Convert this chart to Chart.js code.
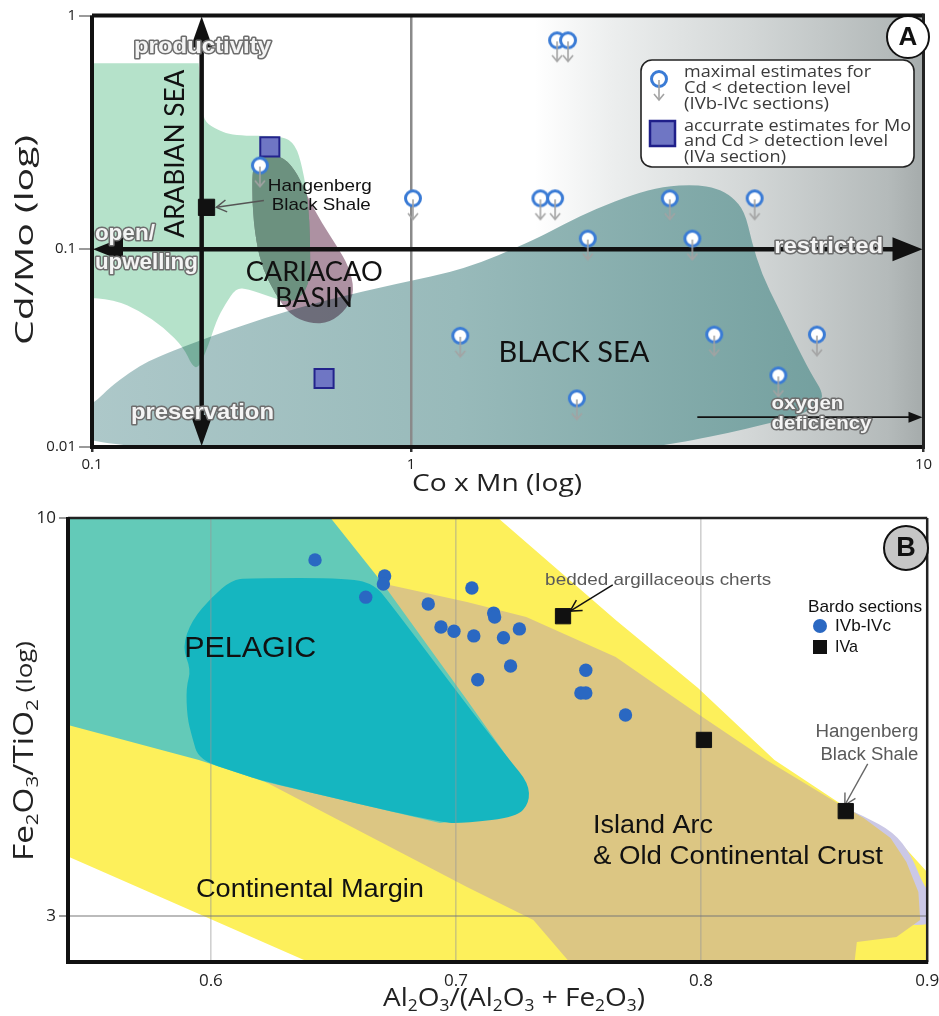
<!DOCTYPE html>
<html>
<head>
<meta charset="utf-8">
<title>Cd/Mo vs Co x Mn and Fe2O3/TiO2 vs Al2O3/(Al2O3+Fe2O3)</title>
<script src="https://cdn.jsdelivr.net/npm/chart.js@4.4.1/dist/chart.umd.min.js"></script>
<style>
html,body{margin:0;padding:0;background:#fff;}
#wrap{position:relative;width:939px;height:1016px;overflow:hidden;}
#pa{position:absolute;left:0;top:0;}
#pb{position:absolute;left:0;top:500px;}
</style>
</head>
<body>
<div id="wrap">
<canvas id="pa" width="939" height="500"></canvas>
<canvas id="pb" width="939" height="516"></canvas>
</div>
<script>
// ================= PANEL A DATA (Cd/Mo vs Co x Mn) =================
const A_X_TICKS = [0.1, 1, 10];
const A_X_TICK_LABELS = ['0.1', '1', '10'];
const A_Y_TICKS = [0.01, 0.1, 1];
const A_Y_TICK_LABELS = ['0.01', '0.1', '1'];

// IVb-IVc sections: maximal estimates (Cd < detection level)
const A_IVBC_COMN = [0.336, 1.009, 1.248, 1.789, 1.911, 1.928, 2.025, 2.213, 3.199, 3.540, 3.905, 4.684, 5.210, 6.194, 2.107];
const A_IVBC_CDMO = [0.228, 0.165, 0.0365, 0.165, 0.165, 0.783, 0.783, 0.111, 0.165, 0.111, 0.037, 0.165, 0.023, 0.037, 0.0176];
// IVa section: accurate estimates
const A_IVA_COMN = [0.361, 0.534];
const A_IVA_CDMO = [0.274, 0.0222];
// Hangenberg Black Shale
const A_HBS_COMN = [0.2286];
const A_HBS_CDMO = [0.151];

// reference fields [Co x Mn, Cd/Mo]
const A_BLACK_SEA = [[0.09,0.0148],[0.1036,0.0172],[0.1137,0.0200],[0.1311,0.0238],[0.1512,0.0274],[0.216,0.0345],[0.348,0.045],[0.557,0.0561],[0.899,0.0667],[1.276,0.0793],[1.718,0.1081],[1.989,0.1278],[2.302,0.1494],[2.714,0.1714],[3.10,0.1854],[3.589,0.189],[3.957,0.1818],[4.229,0.1681],[4.48,0.1451],[4.62,0.1081],[4.831,0.0749],[5.21,0.0505],[5.592,0.0345],[6.03,0.0235],[6.362,0.0189],[6.305,0.0168],[5.898,0.0150],[5.518,0.0140],[4.831,0.0129],[4.173,0.0118],[3.54,0.0108],[3.10,0.0102],[2.6,0.0095],[0.09,0.0095]];
const A_ARABIAN_SEA = [[0.09,0.625],[0.09,0.625],[0.216,0.625],[0.216,0.625],[0.2207,0.426],[0.2238,0.357],[0.2403,0.330],[0.2771,0.3055],[0.3959,0.3055],[0.4343,0.280],[0.4564,0.2255],[0.4764,0.160],[0.4833,0.108],[0.4833,0.0652],[0.425,0.0529],[0.3557,0.058],[0.3084,0.0629],[0.2831,0.0637],[0.2618,0.0529],[0.2455,0.0435],[0.2318,0.0326],[0.216,0.0249],[0.2055,0.0258],[0.1941,0.0318],[0.1683,0.0401],[0.1408,0.0488],[0.1178,0.0554],[0.09,0.0575],[0.09,0.0575]];
const A_CARIACO = [[0.3195,0.244],[0.3557,0.256],[0.4016,0.246],[0.4406,0.2106],[0.4731,0.168],[0.5265,0.129],[0.5858,0.103],[0.6382,0.0821],[0.6661,0.0615],[0.6291,0.0499],[0.5573,0.0425],[0.4833,0.042],[0.416,0.0466],[0.3739,0.0601],[0.3432,0.0793],[0.3265,0.1081],[0.3172,0.1601]];
// axis-arrow positions (values)
const A_ARROW_COMN = 0.2207;
const A_ARROW_CDMO = 0.1;

// ================= PANEL B DATA (Fe2O3/TiO2 vs Al2O3/(Al2O3+Fe2O3)) =================
const B_X_TICKS = [0.6, 0.7, 0.8, 0.9];
const B_X_TICK_LABELS = ['0.6', '0.7', '0.8', '0.9'];
const B_Y_TICKS = [3, 10];
const B_Y_TICK_LABELS = ['3', '10'];

const B_IVBC_AL = [0.6425,0.6709,0.6704,0.6632,0.7065,0.6887,0.7154,0.7158,0.6939,0.6992,0.7073,0.7194,0.7259,0.7223,0.7089,0.7530,0.7510,0.7530,0.7692];
const B_IVBC_FE = [8.81,8.39,8.19,7.87,8.09,7.71,7.50,7.41,7.19,7.10,7.00,6.96,7.15,6.39,6.13,6.31,5.89,5.89,5.51];
const B_IVA_AL = [0.7437, 0.8013, 0.8640];
const B_IVA_FE = [7.43, 5.11, 4.12];

const B_CONT_MARGIN = [[0.6478,10.3],[0.7126,10.3],[0.7652,7.345],[0.7988,5.978],[0.8325,4.808],[0.8632,4.183],[0.8851,3.833],[0.905,3.30],[0.905,2.55],[0.647,2.55],[0.5385,3.63],[0.538,10.3]];
const B_LAVENDER = [[0.8588,4.222],[0.8719,4.059],[0.8851,3.868],[0.8930,3.608],[0.8982,3.295],[0.905,3.101],[0.905,2.919],[0.8851,2.919],[0.8719,3.447],[0.8632,4.011]];
const B_ISLAND_ARC = [[0.6692,8.216],[0.7045,7.755],[0.7287,7.411],[0.7652,6.568],[0.7976,5.561],[0.8289,4.808],[0.8610,4.209],[0.8719,4.035],[0.8838,3.797],[0.8908,3.532],[0.8961,3.226],[0.8969,2.964],[0.8864,2.814],[0.8689,2.773],[0.8675,2.55],[0.749,2.55],[0.7316,2.964],[0.7045,3.274],[0.6223,4.499]];
const B_PELAGIC_OUTER = [[0.538,10.3],[0.6457,10.3],[0.6700,8.216],[0.7045,5.767],[0.7247,4.665],[0.7166,4.072],[0.6935,3.975],[0.6223,4.499],[0.5951,4.808],[0.5417,5.346],[0.538,5.37]];
const B_PELAGIC = [[0.6154,8.342],[0.6571,8.342],[0.6668,8.166],[0.6721,7.803],[0.7045,5.68],[0.7219,4.808],[0.7296,4.485],[0.7300,4.222],[0.7247,4.047],[0.7045,3.975],[0.6935,3.975],[0.6223,4.499],[0.6113,4.622],[0.5951,4.808],[0.5923,5.155],[0.5903,5.476],[0.5899,5.996],[0.5919,6.314],[0.5883,6.768],[0.5923,7.345],[0.6004,7.874],[0.6085,8.29]];

// ================= piecewise axis (the source figure's axes are unevenly stretched) =================
class PiecewiseScale extends Chart.LinearScale {
  _pwT(v) { return this.options.logMap ? Math.log10(v) : v; }
  getPixelForValue(value) {
    if (value === null || value === undefined || isNaN(value)) return NaN;
    const a = this.options.anchors;
    const t = this._pwT(value);
    let i = 0;
    while (i < a.length - 2 && t > this._pwT(a[i + 1][0])) i++;
    const t0 = this._pwT(a[i][0]), t1 = this._pwT(a[i + 1][0]);
    const f = a[i][1] + (t - t0) / (t1 - t0) * (a[i + 1][1] - a[i][1]);
    return this.getPixelForDecimal(f);
  }
  getValueForPixel(pixel) {
    const f = this.getDecimalForPixel(pixel);
    const a = this.options.anchors;
    let i = 0;
    while (i < a.length - 2 && f > a[i + 1][1]) i++;
    const t0 = this._pwT(a[i][0]), t1 = this._pwT(a[i + 1][0]);
    const t = t0 + (f - a[i][1]) / (a[i + 1][1] - a[i][1]) * (t1 - t0);
    return this.options.logMap ? Math.pow(10, t) : t;
  }
}
PiecewiseScale.id = 'piecewise';
PiecewiseScale.defaults = Chart.LinearScale.defaults;
Chart.register(PiecewiseScale);

// ================= helpers =================
function drawTxt(ctx, o, px, py) {
  const segs = o.segs || [[o.t, 0]];
  const fam = o.fam || 'Liberation Sans';
  const wt = o.wt || 'normal';
  const info = segs.map(([s, k]) => {
    const sz = k === 1 ? o.size * 0.62 : (k === 2 ? o.size * 0.78 : o.size);
    ctx.font = wt + ' ' + sz + 'px "' + fam + '"';
    return { s, k, sz, w: ctx.measureText(s).width };
  });
  const tot = info.reduce((a, b) => a + b.w, 0);
  const sx = o.w ? o.w / tot : 1;
  ctx.save();
  ctx.translate(px, py);
  if (o.rot) ctx.rotate(o.rot);
  ctx.scale(sx, 1);
  let x = o.align === 'center' ? -tot / 2 : (o.align === 'right' ? -tot : 0);
  ctx.textBaseline = 'middle';
  ctx.textAlign = 'left';
  for (const it of info) {
    ctx.font = wt + ' ' + it.sz + 'px "' + fam + '"';
    const yy = it.k === 1 ? o.size * 0.3 : (it.k === 2 ? o.size * 0.05 : 0);
    if (o.outline) {
      ctx.lineJoin = 'round';
      ctx.strokeStyle = o.outline;
      ctx.lineWidth = o.olw || 3;
      ctx.strokeText(it.s, x, yy);
    }
    ctx.fillStyle = o.color || '#000';
    ctx.fillText(it.s, x, yy);
    x += it.w;
  }
  ctx.restore();
}
function arrowHead(ctx, tx, ty, fx, fy, len, hw, filled) {
  const ang = Math.atan2(ty - fy, tx - fx);
  const bx = tx - len * Math.cos(ang), by = ty - len * Math.sin(ang);
  const px = -Math.sin(ang) * hw, py = Math.cos(ang) * hw;
  ctx.beginPath();
  ctx.moveTo(bx + px, by + py);
  ctx.lineTo(tx, ty);
  ctx.lineTo(bx - px, by - py);
  if (filled) { ctx.closePath(); ctx.fill(); } else { ctx.stroke(); }
}
function arrow(ctx, x1, y1, x2, y2, o) {
  const ang = Math.atan2(y2 - y1, x2 - x1);
  let sx = x1, sy = y1, ex = x2, ey = y2;
  if (o.start && o.filled) { sx += Math.cos(ang) * o.len * 0.8; sy += Math.sin(ang) * o.len * 0.8; }
  if (o.end && o.filled) { ex -= Math.cos(ang) * o.len * 0.8; ey -= Math.sin(ang) * o.len * 0.8; }
  ctx.save();
  ctx.strokeStyle = o.color; ctx.fillStyle = o.color; ctx.lineWidth = o.lw; ctx.lineCap = 'butt';
  ctx.beginPath(); ctx.moveTo(sx, sy); ctx.lineTo(ex, ey); ctx.stroke();
  ctx.lineWidth = o.hlw || o.lw;
  if (o.end) arrowHead(ctx, x2, y2, x1, y1, o.len, o.hw, o.filled);
  if (o.start) arrowHead(ctx, x1, y1, x2, y2, o.len, o.hw, o.filled);
  ctx.restore();
}
function regionPath(ctx, chart, pts, smooth) {
  const xs = chart.scales.x, ys = chart.scales.y;
  const p = pts.map(([a, b]) => [xs.getPixelForValue(a), ys.getPixelForValue(b)]);
  const n = p.length;
  ctx.beginPath();
  if (!smooth) {
    ctx.moveTo(p[0][0], p[0][1]);
    for (let i = 1; i < n; i++) ctx.lineTo(p[i][0], p[i][1]);
  } else {
    const mid = (u, v) => [(u[0] + v[0]) / 2, (u[1] + v[1]) / 2];
    const m0 = mid(p[n - 1], p[0]);
    ctx.moveTo(m0[0], m0[1]);
    for (let i = 0; i < n; i++) {
      const m = mid(p[i], p[(i + 1) % n]);
      ctx.quadraticCurveTo(p[i][0], p[i][1], m[0], m[1]);
    }
  }
  ctx.closePath();
}
function fillRegion(ctx, chart, pts, color, smooth) {
  regionPath(ctx, chart, pts, smooth);
  ctx.fillStyle = color;
  ctx.fill();
}
function P(chart, xv, yv) {
  return [chart.scales.x.getPixelForValue(xv), chart.scales.y.getPixelForValue(yv)];
}
function clipArea(ctx, a) {
  ctx.beginPath();
  ctx.rect(a.left, a.top, a.right - a.left, a.bottom - a.top);
  ctx.clip();
}
function makeOpenCircle() {
  const c = document.createElement('canvas');
  c.width = 24; c.height = 58;
  const g = c.getContext('2d');
  const cx = 12, cy = 29;
  g.beginPath(); g.arc(cx, cy, 7.5, 0, Math.PI * 2);
  g.fillStyle = '#ffffff'; g.fill();
  g.lineWidth = 3; g.strokeStyle = '#3a7bd5'; g.stroke();
  g.strokeStyle = '#a3a3a3'; g.lineWidth = 1.6;
  g.beginPath(); g.moveTo(cx, cy + 1); g.lineTo(cx, cy + 21); g.stroke();
  g.beginPath(); g.moveTo(cx - 5, cy + 15); g.lineTo(cx, cy + 21); g.lineTo(cx + 5, cy + 15); g.stroke();
  return c;
}
const OPEN_CIRCLE = makeOpenCircle();

// ================= Panel A annotations =================
const A_REGION_LABELS = [
  { t: 'ARABIAN SEA', at: [0.1834, 0.2562], size: 26, fam: 'Lato', align: 'center', rot: -Math.PI / 2, w: 168 },
  { t: 'CARIACAO', at: [0.4972, 0.0758], size: 26, fam: 'Lato', align: 'center', w: 137 },
  { t: 'BASIN', at: [0.497, 0.0561], size: 26, fam: 'Lato', align: 'center', w: 78 },
  { t: 'BLACK SEA', at: [2.079, 0.0300], size: 29, fam: 'Lato', align: 'center', w: 151 },
  { t: 'Hangenberg', at: [0.3557, 0.1854], size: 17, align: 'left', w: 104 },
  { t: 'Black Shale', at: [0.366, 0.1539], size: 17, align: 'left', w: 99 }
];
const A_OUTLINE_LABELS = [
  { t: 'productivity', at: [0.222, 0.731], size: 22, align: 'center', w: 137 },
  { t: 'preservation', at: [0.222, 0.0148], size: 22, align: 'center', w: 143 },
  { t: 'open/', at: [0.1021, 0.1159], size: 22, align: 'left', w: 60 },
  { t: 'upwelling', at: [0.1021, 0.085], size: 22, align: 'left', w: 103 },
  { t: 'restricted', at: [6.53, 0.102], size: 22, align: 'center', w: 109 },
  { t: 'oxygen', at: [5.05, 0.01645], size: 18, align: 'left', w: 72 },
  { t: 'deficiency', at: [5.05, 0.01305], size: 18, align: 'left', w: 100 }
];

const plugA = {
  id: 'plugA',
  beforeDraw(chart) {
    const { ctx, chartArea: a } = chart;
    const w = a.right - a.left;
    ctx.save();
    clipArea(ctx, a);
    // background shading toward "restricted"
    const g = ctx.createLinearGradient(a.left + 0.532 * w, 0, a.right, 0);
    g.addColorStop(0, '#ffffff');
    g.addColorStop(0.2, '#eceeee');
    g.addColorStop(0.56, '#d2d6d6');
    g.addColorStop(0.91, '#b4baba');
    g.addColorStop(1, '#a5abab');
    ctx.fillStyle = g;
    ctx.fillRect(a.left, a.top, w, a.bottom - a.top);
    // Black Sea field (own shading)
    const tg = ctx.createLinearGradient(a.left, 0, a.left + 0.88 * w, 0);
    tg.addColorStop(0, '#adc8c9');
    tg.addColorStop(0.5, '#98baba');
    tg.addColorStop(1, '#74a09f');
    fillRegion(ctx, chart, A_BLACK_SEA, tg, true);
    ctx.globalCompositeOperation = 'multiply';
    fillRegion(ctx, chart, A_ARABIAN_SEA, '#b5e2ca', true);
    fillRegion(ctx, chart, A_CARIACO, '#ad91a2', true);
    ctx.globalCompositeOperation = 'source-over';
    // overlap of Arabian Sea and Cariaco fields
    ctx.save();
    regionPath(ctx, chart, A_ARABIAN_SEA, true);
    ctx.clip();
    regionPath(ctx, chart, A_CARIACO, true);
    ctx.fillStyle = '#6c917f';
    ctx.fill();
    ctx.restore();
    ctx.restore();
  },
  beforeDatasetsDraw(chart) {
    const { ctx, chartArea: a } = chart;
    // frame
    ctx.save();
    ctx.strokeStyle = '#111';
    ctx.lineWidth = 4;
    ctx.beginPath();
    ctx.moveTo(a.left, a.top); ctx.lineTo(a.right, a.top);
    ctx.moveTo(a.left, a.top); ctx.lineTo(a.left, a.bottom);
    ctx.moveTo(a.left - 2, a.bottom); ctx.lineTo(a.right, a.bottom);
    ctx.stroke();
    ctx.lineWidth = 3;
    ctx.strokeStyle = '#222';
    ctx.beginPath(); ctx.moveTo(a.right, a.top - 2); ctx.lineTo(a.right, a.bottom + 2); ctx.stroke();
    ctx.restore();
    // axis arrows
    const vt = P(chart, A_ARROW_COMN, 1), vb = P(chart, A_ARROW_COMN, 0.01);
    arrow(ctx, vt[0], vt[1] + 1, vb[0], vb[1] - 1, { color: '#111', lw: 4.5, len: 31, hw: 11, filled: true, start: true, end: true });
    const hl = P(chart, 0.1, A_ARROW_CDMO), hr = P(chart, 10, A_ARROW_CDMO);
    arrow(ctx, hl[0] + 1, hl[1], hr[0] - 1, hr[1], { color: '#111', lw: 4.5, len: 30, hw: 12, filled: true, start: true, end: true });
    // oxygen deficiency arrow
    const o1 = P(chart, 3.62, 0.01415), o2 = P(chart, 10, 0.01415);
    arrow(ctx, o1[0], o1[1], o2[0] - 1, o2[1], { color: '#111', lw: 1.6, len: 14, hw: 5.5, filled: true, end: true });
    // Hangenberg leader
    const h1 = P(chart, 0.3458, 0.1616), h2 = P(chart, 0.2455, 0.151);
    arrow(ctx, h1[0], h1[1], h2[0], h2[1], { color: '#555', lw: 1.5, len: 10, hw: 6, filled: false, end: true });
  },
  afterDatasetsDraw(chart) {
    const { ctx } = chart;
    for (const L of A_REGION_LABELS) {
      const p = P(chart, L.at[0], L.at[1]);
      drawTxt(ctx, Object.assign({ color: '#111' }, L), p[0], p[1]);
    }
    for (const L of A_OUTLINE_LABELS) {
      const p = P(chart, L.at[0], L.at[1]);
      drawTxt(ctx, Object.assign({ color: '#f4f4f4', wt: 'bold', outline: '#6e6e6e', olw: 3 }, L), p[0], p[1]);
    }
    // legend box
    ctx.save();
    ctx.beginPath();
    ctx.roundRect(641, 60, 273, 107, 11);
    ctx.fillStyle = '#fff'; ctx.fill();
    ctx.lineWidth = 1.6; ctx.strokeStyle = '#222'; ctx.stroke();
    ctx.drawImage(OPEN_CIRCLE, 659 - OPEN_CIRCLE.width / 2, 79 - OPEN_CIRCLE.height / 2);
    ctx.fillStyle = '#6f76c4'; ctx.fillRect(650, 121, 25, 25);
    ctx.lineWidth = 2.5; ctx.strokeStyle = '#1f1f8a'; ctx.strokeRect(650, 121, 25, 25);
    ctx.restore();
    const lg = [
      ['maximal estimates for', 72, 187], ['Cd < detection level', 88, 167], ['(IVb-IVc sections)', 104, 145],
      ['accurrate estimates for Mo', 126, 227], ['and Cd > detection level', 141, 204], ['(IVa section)', 157, 102]
    ];
    for (const [t, y, w] of lg) drawTxt(ctx, { t, size: 16, fam: 'Open Sans', color: '#3a3a3a', align: 'left', w }, 684, y);
    // panel letter
    ctx.save();
    ctx.beginPath(); ctx.arc(908, 37, 21, 0, Math.PI * 2);
    ctx.fillStyle = '#fff'; ctx.fill(); ctx.lineWidth = 2; ctx.strokeStyle = '#111'; ctx.stroke();
    ctx.restore();
    drawTxt(ctx, { t: 'A', size: 26, wt: 'bold', align: 'center', color: '#111' }, 908, 38);
    // axis titles
    drawTxt(ctx, { t: 'Co x Mn (log)', size: 24, fam: 'Open Sans', align: 'center', color: '#222', w: 170 }, 497, 484);
    drawTxt(ctx, { t: 'Cd/Mo (log)', size: 25, fam: 'Open Sans', align: 'center', color: '#222', rot: -Math.PI / 2, w: 210 }, 26, 240);
  }
};

const chartA = new Chart(document.getElementById('pa'), {
  type: 'scatter',
  data: {
    datasets: [
      { label: 'maximal estimates for Cd < detection level (IVb-IVc sections)',
        data: A_IVBC_COMN.map((x, i) => ({ x, y: A_IVBC_CDMO[i] })),
        pointStyle: OPEN_CIRCLE, pointRadius: 9 },
      { label: 'accurate estimates for Mo and Cd > detection level (IVa section)',
        data: A_IVA_COMN.map((x, i) => ({ x, y: A_IVA_CDMO[i] })),
        pointStyle: 'rect', pointRadius: 13.5, backgroundColor: '#6f76c4', borderColor: '#23238c', borderWidth: 2 },
      { label: 'Hangenberg Black Shale',
        data: A_HBS_COMN.map((x, i) => ({ x, y: A_HBS_CDMO[i] })),
        pointStyle: 'rect', pointRadius: 11.5, backgroundColor: '#111', borderColor: '#111', borderWidth: 1 }
    ]
  },
  options: {
    responsive: false, animation: false, devicePixelRatio: 1, events: [],
    layout: { padding: { top: 13, right: 5, left: 0, bottom: 0 } },
    plugins: { legend: { display: false }, tooltip: { enabled: false } },
    scales: {
      x: {
        type: 'piecewise', logMap: true, anchors: [[0.1, 0], [1, 0.3836], [10, 1]], min: 0.1, max: 10,
        afterBuildTicks: s => { s.ticks = A_X_TICKS.map(v => ({ value: v })); },
        afterFit: s => { s.height = 53; s.paddingLeft = 0; s.paddingRight = 0; },
        ticks: { autoSkip: false, maxRotation: 0, padding: 4, color: '#222', font: { size: 15, family: 'Open Sans' },
          callback: v => A_X_TICK_LABELS[A_X_TICKS.indexOf(v)] },
        grid: { color: c => (c.tick && c.tick.value === 1) ? '#8a8a8a' : 'rgba(0,0,0,0)', lineWidth: 2.5, tickColor: '#333', tickLength: 5 },
        border: { display: false }
      },
      y: {
        type: 'piecewise', logMap: true, anchors: [[0.01, 0], [0.1, 0.4585], [1, 1]], min: 0.01, max: 1,
        afterBuildTicks: s => { s.ticks = A_Y_TICKS.map(v => ({ value: v })); },
        afterFit: s => { s.width = 92; s.paddingTop = 0; s.paddingBottom = 0; },
        ticks: { autoSkip: false, padding: 3, color: '#222', font: { size: 15, family: 'Open Sans' },
          callback: v => A_Y_TICK_LABELS[A_Y_TICKS.indexOf(v)] },
        grid: { drawOnChartArea: false, tickColor: '#9a9a9a', tickLength: 13, lineWidth: 2 },
        border: { display: false }
      }
    }
  },
  plugins: [plugA]
});

// ================= Panel B annotations =================
const B_REGION_LABELS = [
  { t: 'PELAGIC', at: [0.5891, 6.73], size: 30, align: 'left', w: 132, color: '#111' },
  { t: 'Island Arc', at: [0.7559, 3.937], size: 25, align: 'left', w: 120, color: '#111' },
  { t: '& Old Continental Crust', at: [0.7559, 3.586], size: 25, align: 'left', w: 290, color: '#111' },
  { t: 'Continental Margin', at: [0.5939, 3.245], size: 25, align: 'left', w: 228, color: '#111' },
  { t: 'bedded argillaceous cherts', at: [0.7364, 8.29], size: 17, align: 'left', w: 226, color: '#5a5a5a' },
  { t: 'Hangenberg', at: [0.8961, 5.234], size: 18, align: 'right', w: 103, color: '#5a5a5a' },
  { t: 'Black Shale', at: [0.8961, 4.882], size: 18, align: 'right', w: 98, color: '#5a5a5a' }
];

const plugB = {
  id: 'plugB',
  beforeDraw(chart) {
    const { ctx, chartArea: a } = chart;
    ctx.save();
    clipArea(ctx, a);
    fillRegion(ctx, chart, B_CONT_MARGIN, '#fdf05b', false);
    fillRegion(ctx, chart, B_LAVENDER, '#cbc8e6', true);
    fillRegion(ctx, chart, B_ISLAND_ARC, '#dcc683', false);
    fillRegion(ctx, chart, B_PELAGIC_OUTER, '#63cab8', false);
    fillRegion(ctx, chart, B_PELAGIC, '#15b6c0', true);
    ctx.restore();
  },
  beforeDatasetsDraw(chart) {
    const { ctx, chartArea: a } = chart;
    ctx.save();
    ctx.strokeStyle = '#222'; ctx.lineWidth = 2.5;
    ctx.beginPath();
    ctx.moveTo(a.left, a.top); ctx.lineTo(a.right, a.top);
    ctx.moveTo(a.right, a.top); ctx.lineTo(a.right, a.bottom);
    ctx.stroke();
    ctx.strokeStyle = '#111'; ctx.lineWidth = 4;
    ctx.beginPath();
    ctx.moveTo(a.left, a.top - 1); ctx.lineTo(a.left, a.bottom);
    ctx.moveTo(a.left - 2, a.bottom); ctx.lineTo(a.right + 1, a.bottom);
    ctx.stroke();
    ctx.restore();
    const b1 = P(chart, 0.7640, 8.166), b2 = P(chart, 0.7466, 7.546);
    arrow(ctx, b1[0], b1[1], b2[0], b2[1], { color: '#111', lw: 1.5, len: 11, hw: 6, filled: false, end: true });
    const h1 = P(chart, 0.8737, 4.752), h2 = P(chart, 0.8636, 4.197);
    arrow(ctx, h1[0], h1[1], h2[0], h2[1], { color: '#666', lw: 1.4, len: 11, hw: 6, filled: false, end: true });
  },
  afterDatasetsDraw(chart) {
    const { ctx } = chart;
    for (const L of B_REGION_LABELS) {
      const p = P(chart, L.at[0], L.at[1]);
      drawTxt(ctx, L, p[0], p[1]);
    }
    // legend
    drawTxt(ctx, { t: 'Bardo sections', size: 17, align: 'left', w: 114, color: '#111' }, 808, 107);
    ctx.save();
    ctx.beginPath(); ctx.arc(820, 126, 7, 0, Math.PI * 2); ctx.fillStyle = '#2a68c2'; ctx.fill();
    ctx.fillStyle = '#111'; ctx.fillRect(813, 140, 14, 14);
    ctx.restore();
    drawTxt(ctx, { t: 'IVb-IVc', size: 17, align: 'left', w: 56, color: '#111' }, 835, 126);
    drawTxt(ctx, { t: 'IVa', size: 17, align: 'left', w: 23, color: '#111' }, 835, 147);
    // panel letter
    ctx.save();
    ctx.beginPath(); ctx.arc(906, 48, 22, 0, Math.PI * 2);
    ctx.fillStyle = '#c6c6c6'; ctx.fill(); ctx.lineWidth = 2; ctx.strokeStyle = '#111'; ctx.stroke();
    ctx.restore();
    drawTxt(ctx, { t: 'B', size: 27, wt: 'bold', align: 'center', color: '#111' }, 906, 49);
    // axis titles
    drawTxt(ctx, { segs: [['Al', 0], ['2', 1], ['O', 0], ['3', 1], ['/(Al', 0], ['2', 1], ['O', 0], ['3', 1], [' + Fe', 0], ['2', 1], ['O', 0], ['3', 1], [')', 0]],
      size: 25, fam: 'Open Sans', align: 'center', color: '#222', w: 262 }, 514, 499);
    drawTxt(ctx, { segs: [['Fe', 0], ['2', 1], ['O', 0], ['3', 1], ['/TiO', 0], ['2', 1], [' (log)', 2]],
      size: 27, fam: 'Open Sans', align: 'center', color: '#222', rot: -Math.PI / 2, w: 220 }, 25, 251);
  }
};

const chartB = new Chart(document.getElementById('pb'), {
  type: 'scatter',
  data: {
    datasets: [
      { label: 'IVb-IVc', data: B_IVBC_AL.map((x, i) => ({ x, y: B_IVBC_FE[i] })),
        pointStyle: 'circle', pointRadius: 6.7, backgroundColor: '#2a68c2', borderColor: '#2a68c2', borderWidth: 0 },
      { label: 'IVa', data: B_IVA_AL.map((x, i) => ({ x, y: B_IVA_FE[i] })),
        pointStyle: 'rect', pointRadius: 10.8, backgroundColor: '#111', borderColor: '#111', borderWidth: 1 }
    ]
  },
  options: {
    responsive: false, animation: false, devicePixelRatio: 1, events: [],
    layout: { padding: { top: 18, right: 5, left: 0, bottom: 0 } },
    plugins: { legend: { display: false }, tooltip: { enabled: false } },
    scales: {
      x: {
        type: 'piecewise', logMap: false, anchors: [[0.5417, 0], [0.6, 0.1663], [0.8, 0.7367], [0.9, 1]], min: 0.5417, max: 0.9,
        afterBuildTicks: s => { s.ticks = B_X_TICKS.map(v => ({ value: v })); },
        afterFit: s => { s.height = 54; s.paddingLeft = 0; s.paddingRight = 0; },
        ticks: { autoSkip: false, maxRotation: 0, padding: 9, color: '#222', font: { size: 17, family: 'Open Sans' },
          callback: v => B_X_TICK_LABELS[B_X_TICKS.indexOf(v)] },
        grid: { color: c => (c.tick && c.tick.value < 0.85) ? 'rgba(150,150,150,0.45)' : 'rgba(0,0,0,0)', lineWidth: 1.6, drawTicks: false },
        border: { display: false }
      },
      y: {
        type: 'logarithmic', min: 2.61, max: 10,
        afterBuildTicks: s => { s.ticks = B_Y_TICKS.map(v => ({ value: v })); },
        afterFit: s => { s.width = 68; s.paddingTop = 0; s.paddingBottom = 0; },
        ticks: { autoSkip: false, padding: 3, color: '#222', font: { size: 17, family: 'Open Sans' },
          callback: v => B_Y_TICK_LABELS[B_Y_TICKS.indexOf(v)] },
        grid: { color: c => (c.tick && c.tick.value === 3) ? 'rgba(120,120,120,0.5)' : 'rgba(0,0,0,0)', lineWidth: 2, tickColor: '#9a9a9a', tickLength: 9 },
        border: { display: false }
      }
    }
  },
  plugins: [plugB]
});

if (document.fonts && document.fonts.load) {
  Promise.all(['16px "Open Sans"', '16px Lato', '16px "Liberation Sans"', 'bold 16px "Liberation Sans"']
    .map(f => document.fonts.load(f))).then(() => { chartA.draw(); chartB.draw(); }).catch(() => {});
}
</script>
</body>
</html>
